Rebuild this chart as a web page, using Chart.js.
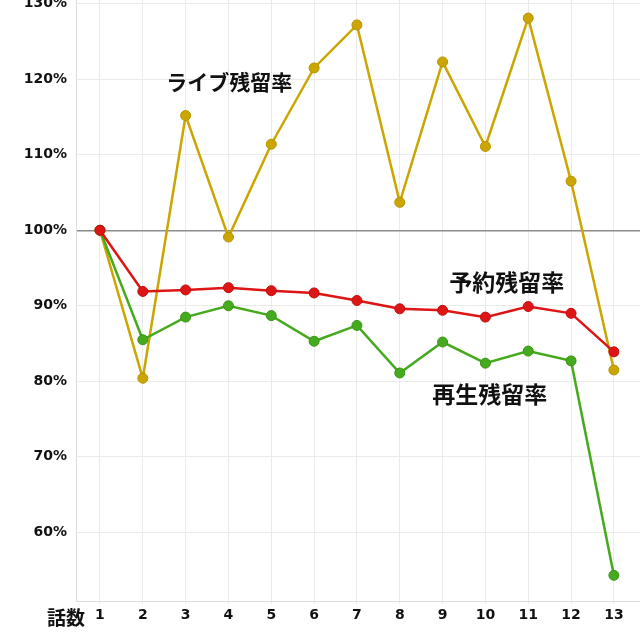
<!DOCTYPE html>
<html>
<head>
<meta charset="utf-8">
<script src="https://cdn.jsdelivr.net/npm/chart.js@4"></script>
<style>
  html, body { margin: 0; padding: 0; background: #fff; }
  #wrap { width: 640px; height: 640px; }
</style>
</head>
<body>
<div id="wrap"><canvas id="chart" width="640" height="640"></canvas></div>
<script>
// episode numbers
const episodes = [1, 2, 3, 4, 5, 6, 7, 8, 9, 10, 11, 12, 13];
// retention rates (%)
const liveRate = [100, 80.4, 115.2, 99.1, 111.4, 121.5, 127.2, 103.7, 122.3, 111.1, 128.1, 106.5, 81.5];
const reserveRate = [100, 91.9, 92.1, 92.4, 92.0, 91.7, 90.7, 89.6, 89.4, 88.5, 89.9, 89.0, 83.9];
const playRate = [100, 85.5, 88.5, 90.0, 88.7, 85.3, 87.4, 81.1, 85.2, 82.4, 84.0, 82.7, 54.3];
const yTicks = [60, 70, 80, 90, 100, 110, 120, 130];

// series names drawn next to the lines: [text, episode, value, font size]
const seriesLabels = [
    ['ライブ残留率', 4.02, 119.6, 21],
    ['予約残留率', 10.5, 93.1, 23],
    ['再生残留率', 10.1, 78.3, 23]
];

const tickFont = { family: 'DejaVu Sans', size: 14, weight: 'bold' };

// draws the series names and the x axis caption
const labelPlugin = {
    id: 'labelPlugin',
    afterDraw(chart) {
        const ctx = chart.ctx;
        const xs = chart.scales.x;
        const ys = chart.scales.y;
        ctx.save();
        ctx.fillStyle = '#111';
        ctx.textAlign = 'center';
        ctx.textBaseline = 'middle';
        seriesLabels.forEach(l => {
            ctx.font = 'bold ' + l[3] + 'px "Noto Sans CJK JP"';
            ctx.fillText(l[0], xs.getPixelForValue(l[1]), ys.getPixelForValue(l[2]));
        });
        ctx.font = 'bold 19px "Noto Sans CJK JP"';
        ctx.fillText('話数', 66, 618);
        ctx.restore();
    }
};

function lineSet(label, values, color, border) {
    return {
        label: label,
        data: episodes.map((ep, i) => ({ x: ep, y: values[i] })),
        borderColor: color,
        backgroundColor: color,
        borderWidth: 2.5,
        pointRadius: 5,
        pointBorderWidth: 1,
        pointBorderColor: border,
        pointBackgroundColor: color,
        tension: 0
    };
}

new Chart(document.getElementById('chart').getContext('2d'), {
    type: 'line',
    data: {
        datasets: [
            lineSet('予約残留率', reserveRate, '#dd1515', '#c00f0f'),
            lineSet('再生残留率', playRate, '#46aa1e', '#3a9418'),
            lineSet('ライブ残留率', liveRate, '#cba600', '#b59300')
        ]
    },
    options: {
        responsive: false,
        animation: false,
        layout: { autoPadding: false, padding: 0 },
        plugins: {
            legend: { display: false },
            tooltip: { enabled: false }
        },
        scales: {
            x: {
                type: 'linear',
                min: 0.44,
                max: 13.61,
                grid: { color: '#ebebeb', drawTicks: true, tickLength: 3 },
                border: { color: '#dddddd' },
                ticks: { color: '#111', font: tickFont, padding: 3, maxRotation: 0, autoSkip: false },
                afterBuildTicks(scale) {
                    scale.ticks = episodes.map(v => ({ value: v }));
                },
                afterFit(scale) {
                    scale.height = 39;
                    scale.paddingLeft = 0;
                    scale.paddingRight = 0;
                }
            },
            y: {
                min: 50.9,
                max: 130.5,
                grid: {
                    color: ctx => (ctx.tick && ctx.tick.value === 100) ? '#8c8c8c' : '#ebebeb',
                    lineWidth: ctx => (ctx.tick && ctx.tick.value === 100) ? 1.5 : 1,
                    drawTicks: false
                },
                border: { color: '#dddddd' },
                ticks: {
                    color: '#111',
                    font: tickFont,
                    padding: 9,
                    callback: v => v + '%'
                },
                afterBuildTicks(scale) {
                    scale.ticks = yTicks.map(v => ({ value: v }));
                },
                afterFit(scale) {
                    scale.width = 76;
                    scale.paddingTop = 0;
                    scale.paddingBottom = 0;
                }
            }
        }
    },
    plugins: [labelPlugin]
});
</script>
</body>
</html>
